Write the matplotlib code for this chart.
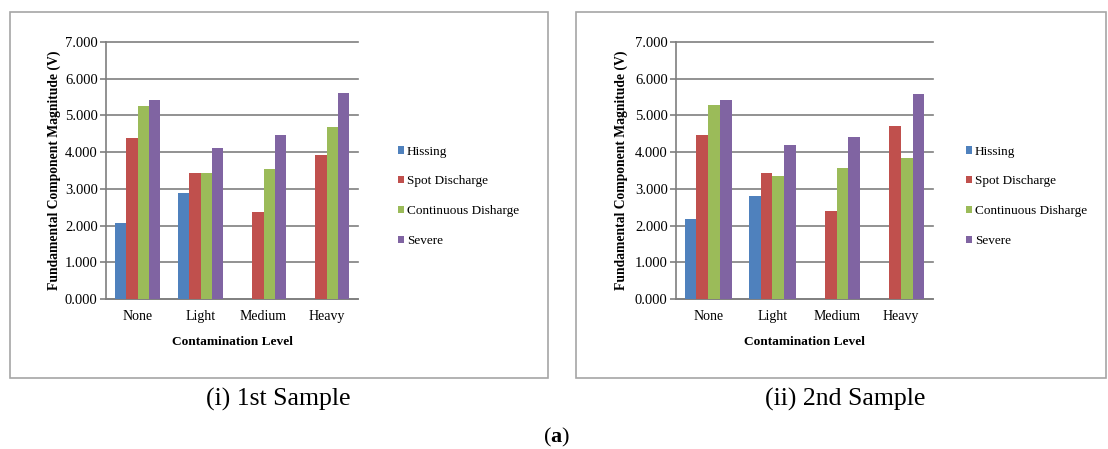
import numpy as np
import matplotlib
matplotlib.use('Agg')
import matplotlib.pyplot as plt
from matplotlib.patches import Rectangle

plt.rcParams['font.family'] = ['Liberation Serif', 'DejaVu Serif']
plt.rcParams['mathtext.fontset'] = 'custom'
plt.rcParams['mathtext.bf'] = 'Liberation Serif:bold'
plt.rcParams['mathtext.rm'] = 'Liberation Serif'

# data
levels = ['None', 'Light', 'Medium', 'Heavy']
series = ['Hissing', 'Spot Discharge', 'Continuous Disharge', 'Severe']
colors = ['#4F81BD', '#C0504D', '#9BBB59', '#8064A2']

sample1_hissing = [2.08, 2.88, 0.0, 0.0]
sample1_spot = [4.38, 3.43, 2.38, 3.93]
sample1_cont = [5.27, 3.42, 3.53, 4.68]
sample1_severe = [5.42, 4.12, 4.47, 5.60]

sample2_hissing = [2.17, 2.80, 0.0, 0.0]
sample2_spot = [4.48, 3.44, 2.40, 4.70]
sample2_cont = [5.29, 3.35, 3.56, 3.84]
sample2_severe = [5.42, 4.20, 4.40, 5.58]

W, H = 1108, 449
fig = plt.figure(figsize=(W / 100, H / 100), dpi=100)


def px(x0, y0, w, h):
    # pixel box (top-left origin) -> figure fraction
    return [x0 / W, 1 - (y0 + h) / H, w / W, h / H]


def draw_panel(ax_rect, legend_xy, ylabel_x, values):
    ax = fig.add_axes(ax_rect)
    x = np.arange(len(levels))
    bw = 0.182
    for i, (vals, c, name) in enumerate(zip(values, colors, series)):
        ax.bar(x + (i - 1.5) * bw, vals, width=bw, color=c, label=name, zorder=3)
    ax.set_xlim(-0.5, 3.5)
    ax.set_ylim(0, 7)
    ax.set_yticks(np.arange(0, 8, 1))
    ax.set_yticklabels([f'{v:.3f}' for v in range(8)], fontsize=10.5)
    ax.set_xticks(x)
    ax.set_xticklabels(levels, fontsize=10)
    ax.grid(axis='y', color='#7f7f7f', linewidth=1.2, zorder=0)
    for line in ax.get_ygridlines():
        line.set_clip_on(False)
    for s in ['top', 'right']:
        ax.spines[s].set_visible(False)
    for s in ['bottom', 'left']:
        ax.spines[s].set_color('#7f7f7f')
        ax.spines[s].set_linewidth(1.2)
    ax.tick_params(axis='y', length=4, color='#7f7f7f', width=1.2, pad=2)
    ax.tick_params(axis='x', length=0, pad=8)
    ax.set_xlabel('Contamination Level', fontsize=9.6, fontweight='bold', labelpad=9)
    ax.set_ylabel('Fundamental Component Magnitude (V)', fontsize=9.8, fontweight='bold')
    ax.yaxis.set_label_coords(ylabel_x, 0.5)
    ax.legend(loc='upper left', bbox_to_anchor=legend_xy, bbox_transform=fig.transFigure,
              frameon=False, fontsize=9.5, handlelength=0.5, handleheight=0.5,
              handletextpad=0.2, labelspacing=1.35, borderpad=0)
    return ax


draw_panel(px(106, 42, 252, 257), (391 / W, 1 - 139 / H), -0.18,
           [sample1_hissing, sample1_spot, sample1_cont, sample1_severe])
draw_panel(px(676, 42, 257, 257), (959 / W, 1 - 139 / H), -0.188,
           [sample2_hissing, sample2_spot, sample2_cont, sample2_severe])

# panel frames
for x0, x1 in [(10, 548), (576, 1106)]:
    fig.patches.append(Rectangle((x0 / W, 1 - 378 / H), (x1 - x0) / W, 366 / H,
                                 transform=fig.transFigure, fill=False,
                                 edgecolor='#a6a6a6', linewidth=1.2))

fig.text(278 / W, 1 - 399 / H, '(i) 1st Sample', ha='center', va='center', fontsize=18.5)
fig.text(845 / W, 1 - 399 / H, '(ii) 2nd Sample', ha='center', va='center', fontsize=18.5)
fig.text(557 / W, 1 - 437 / H, r'($\mathbf{a}$)', ha='center', va='center', fontsize=16)

fig.savefig('out.png', dpi=100)
